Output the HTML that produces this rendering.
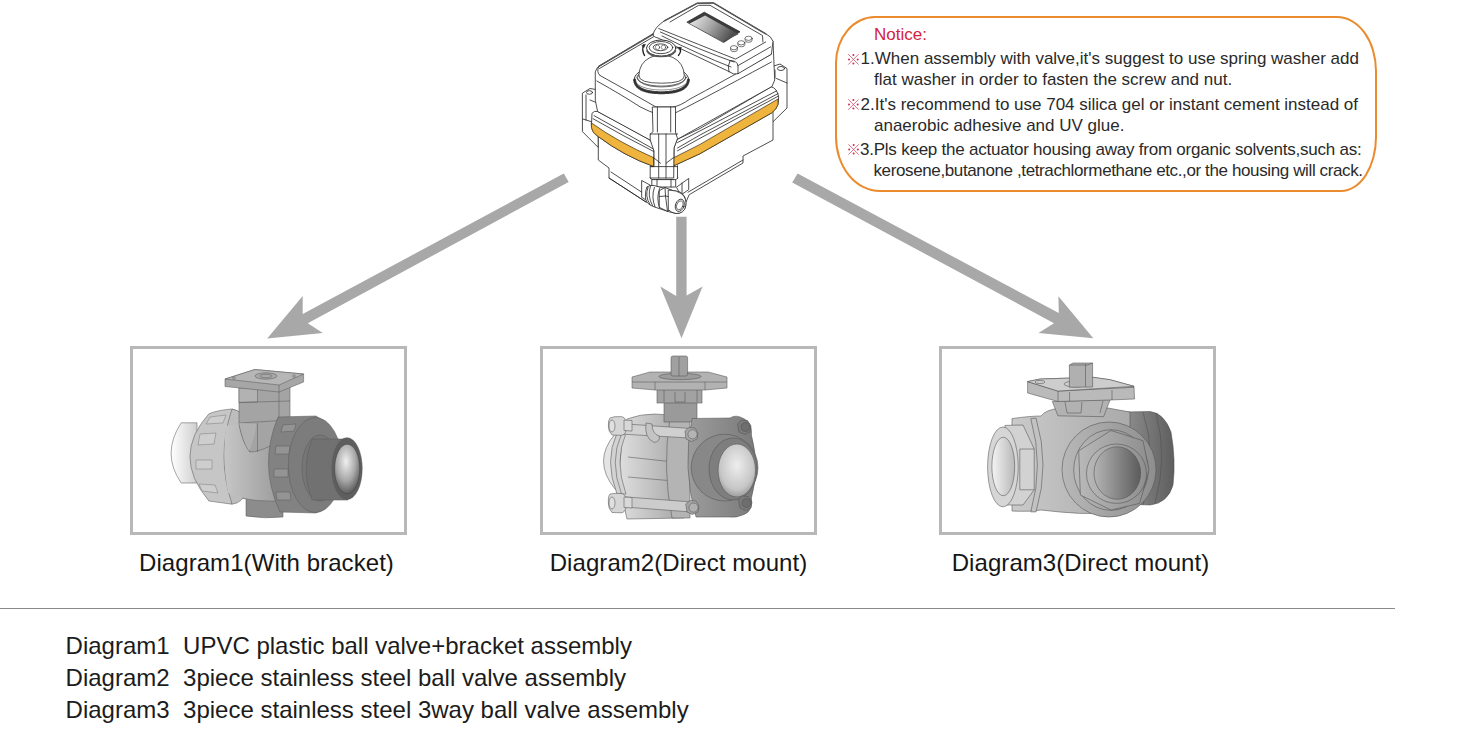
<!DOCTYPE html>
<html>
<head>
<meta charset="utf-8">
<style>
html,body{margin:0;padding:0;background:#fff;}
body{width:1459px;height:737px;position:relative;overflow:hidden;font-family:"Liberation Sans",sans-serif;color:#1a1a1a;}
.t{position:absolute;white-space:pre;line-height:1;}
.cap{font-size:24px;color:#161616;letter-spacing:0.07px;}
.leg{font-size:24px;color:#1c1c1c;}
.n{font-size:17px;color:#2a2a2a;}
.box{position:absolute;top:345.8px;width:271px;height:183px;border:3px solid #b8b8b8;}
#rule{position:absolute;left:0;top:607.5px;width:1395px;height:1.6px;background:#8a8a8a;}
#notice{position:absolute;left:835px;top:15.6px;width:538px;height:172px;border:2px solid #ea8b2e;border-radius:40px 40px 36px 45px / 47px 55px 55px 55px;}
svg{position:absolute;left:0;top:0;}
</style>
</head>
<body>
<!-- arrows -->
<svg id="arrows" width="1459" height="737" viewBox="0 0 1459 737">
  <g fill="#a9a8a9">
    <polygon points="563.8,173.6 568.7,182 307.8,323.2 322.8,332.9 267.2,338.6 302.7,295.9 302.7,314"/>
    <polygon points="676.2,216.8 686.6,216.8 686.6,295.4 702.6,286.6 681.5,338.2 660.3,286.6 676.2,295.9"/>
    <polygon points="797.6,173.6 792.2,182.4 1054,323.2 1038.5,333 1093.3,338.3 1058.4,296.3 1058.8,313.1"/>
  </g>
</svg>

<svg id="act" width="1459" height="230" viewBox="0 0 1459 230">
<defs>
  <linearGradient id="scr" x1="0" y1="0" x2="1" y2="0.35">
    <stop offset="0" stop-color="#f0f0f0"/>
    <stop offset="0.5" stop-color="#a8a8a8"/>
    <stop offset="1" stop-color="#505050"/>
  </linearGradient>
</defs>
<g stroke="#222" stroke-width="0.8" fill="#fff" stroke-linejoin="round" stroke-linecap="round">
  <!-- left ear -->
  <path d="M582.7,93 L590,88.5 L596,89.5 L598.3,102 L598.3,147.5 L582.7,131.9 Z"/>
  <path d="M582.7,119 L591.5,121.7 M586,95 L586,120 M590,100 L597.5,103" fill="none"/>
  <ellipse cx="589.5" cy="92.5" rx="3" ry="1.8"/>
  <!-- right ear -->
  <path d="M773.9,66 L780,64 L787,68.5 L787,108 L771.2,123.5 L771.2,80 Z"/>
  <path d="M776.5,78.5 L787,83 M775,70 L775,78" fill="none"/>
  <ellipse cx="781" cy="68.5" rx="3.6" ry="2"/>
  <!-- lower body -->
  <path d="M598.3,130 L598.3,160 L609,168 L609,178 L646,202 L686,202 L689.2,194.7 L743,163 L743,156 L773,140 L773,104 L660,166 Z"/>
  <path d="M609,178 L646,202 M611,172 L646,195 M688,192.2 L743,160" fill="none"/>
  <!-- rim left -->
  <path d="M592.2,113 Q594,110.5 597.6,111.5 Q625,126 650,140 L654,147 L654,166.6 Q624,156 598.3,136.6 Q592,133 591.5,126 Z"/>
  <path d="M594,115.6 Q625,133 653.5,149 M593,118.7 Q625,137 653.5,151.4" fill="none"/>
  <path d="M591.5,123 Q618,142 653.5,157.6 L654,166.6 Q624,156 598.3,136.6 Q592,133 591.5,128 Z" fill="#efb43e" stroke="#3a2a10" stroke-width="0.7"/>
  <!-- rim right -->
  <path d="M677.5,139.2 L700,128.5 L771.2,86.8 Q777,88 778.7,97 L778,104.4 Q777,109 771.2,113.2 L700,153.7 L674,165.7 L674,148 Z"/>
  <path d="M677.5,142.6 L700,130.9 L776.6,90.9 M677.5,148 L700,135 L778,93.6 M677.5,150.8 L700,138.3 L778,96.3" fill="none"/>
  <path d="M674,157.6 L700,144.4 L778,99 L778,104.4 Q777,109 771.2,113.2 L700,153.7 L674,165.7 Z" fill="#efb43e" stroke="#3a2a10" stroke-width="0.7"/>
  <!-- lid: side band + body wall -->
  <path d="M595.4,71.5 Q597,67 598.8,66.4 L653,34.2 L773,41.2 L774.7,80 L772,86.5 L677.5,139.2 L650,140 L597.6,111.5 L595.4,100.7 Z"/>
  <path d="M596.8,81 Q622,95 640,106.8 Q650,112 657,114 L673,114 Q690,106 771.4,62" fill="none"/>
  <path d="M600.2,66.4 L600.2,75.6" fill="none"/>
  <!-- lid top face -->
  <path d="M598.8,66.4 L653,34.2 L740,59 L771.4,54.2 Q718,84 690,99 Q680,106 673,107 L656,107 Q630,92 600.2,75.6 Q596,72 598.8,66.4 Z"/>
  <path d="M598.8,66.4 L653,34.2" stroke-width="1.6" stroke="#555" fill="none"/>
  <path d="M599.5,68.5 L654,36.5" fill="none"/>
  <!-- display housing -->
  <path d="M653,34.2 Q655,27 664.4,20.8 L697,3.3 L713.3,2.9 L765.7,33.8 Q771,36 773,41.2 L771.4,54.2 L738,73.7 Q733,75 730,72 L658,38 Q653,37 653,34.2 Z"/>
  <path d="M664.4,20.8 L697,3.3 L713.3,2.9 L765.7,33.8" stroke-width="1.5" stroke="#555" fill="none"/>
  <path d="M670,22 L698.6,5.3 L710,5.3 L762.5,35.5 L762.9,42" fill="none"/>
  <path d="M658.7,28.5 Q700,45 735.6,59.1 L765.7,42 M660.4,32 Q700,50 734,62 M738,65.6 L770.6,46.9 M662,36 Q700,55 731,67" fill="none"/>
  <path d="M730,60.7 Q737,60 738,66 L738,73.7 M730,60.7 Q727,66 729,72" fill="none"/>
  <path d="M687.2,22 L704.3,12.2 L740,31.8 L723.9,42.3 Z" fill="#3c3c3c" stroke="#2a2a2a"/>
  <path d="M689.7,23.6 L705.1,15.5 L738.5,34.2 L723,41.5 Z" fill="url(#scr)" stroke="none"/>
  <g stroke-width="0.6">
    <path d="M730.5,47.7 L730.5,49.5 A3.5,2.2 0 0 0 737.5,49.5 L737.5,47.7"/>
    <ellipse cx="734" cy="47.7" rx="3.5" ry="2.1"/>
    <path d="M737.8,42.8 L737.8,44.6 A3.5,2.2 0 0 0 744.8,44.6 L744.8,42.8"/>
    <ellipse cx="741.3" cy="42.8" rx="3.5" ry="2.1"/>
    <path d="M745.1,38.3 L745.1,40.1 A3.5,2.2 0 0 0 752.1,40.1 L752.1,38.3"/>
    <ellipse cx="748.6" cy="38.3" rx="3.5" ry="2.1"/>
  </g>
  <!-- dome -->
  <ellipse cx="661.5" cy="79.5" rx="27.2" ry="13.2" stroke-width="0.9"/>
  <path d="M634.6,80 Q636,92.7 661.5,92.7 Q687,92.7 688.4,80" fill="none" stroke-width="3" stroke="#444" stroke-dasharray="0.7 0.9"/>
  <path d="M634.4,79.5 Q635,92.9 661.5,92.9 Q688,92.9 688.7,79.5" fill="none" stroke-width="0.8"/>
  <path d="M637,84 Q645,90 661.5,90 Q678,90 686,84" fill="none" stroke-width="0.7" stroke="#666"/>
  <ellipse cx="661.5" cy="77.5" rx="24.5" ry="8.6" stroke-width="0.7"/>
  <path d="M637,77.5 Q640,87 661.5,87 Q683,87 686,77.5" fill="none" stroke-width="0.6"/>
  <path d="M638.8,76 Q639,63 650,57.5 Q661.5,52.5 673,57.5 Q684,63 684.3,76 Q684,83.2 661.5,83.2 Q639,83.2 638.8,76 Z" stroke-width="0.75"/>
  <!-- indicator -->
  <ellipse cx="661.2" cy="48.1" rx="14.7" ry="8.1" stroke-width="0.9"/>
  <path d="M647,51 Q650,56.5 661.2,56.5 Q672,56.5 675.5,51" fill="none" stroke-width="1.6" stroke="#555"/>
  <ellipse cx="661" cy="47.6" rx="11.8" ry="6.1"/>
  <ellipse cx="660.5" cy="47.3" rx="7.3" ry="3.4"/>
  <circle cx="657.5" cy="47.3" r="2.2" fill="none" stroke-width="0.5"/>
  <circle cx="663.5" cy="47.3" r="2.2" fill="none" stroke-width="0.5"/>
  <path d="M643.6,45 Q641.5,50 644.5,55.4 M679.5,48 Q682,51 678.5,55.4" fill="none" stroke-width="1.4"/>
  <path d="M642,45.5 L645.5,44 L644,47.5 Z M677,47.5 L681.5,47.2 L680.5,50 Z" fill="#222" stroke-width="0.4"/>
  <!-- column -->
  <path d="M652.7,107 L675.5,107 L675.5,132 L677.5,138.6 L674,148 L673.7,178 L650.2,178 L650.2,166.6 L654,166.6 L654,151 L650.2,140 L650.2,134 L652.7,132 Z"/>
  <path d="M657.4,107 L657.4,132 M670.7,107 L670.7,132 M650.2,134 L677.5,134 M658.7,134 L658.7,178 M666,134 L666,178 M653.5,157.6 L660.6,163.3 M673.5,157.6 L666,163.3 M650.2,166.6 L677.5,166.6" fill="none"/>
  <path d="M677.5,165.7 L677.5,178" fill="none"/>
  <path d="M650,178 L652.2,179.6 L675.7,179.6 L678,178" fill="none"/>
  <path d="M652.2,179.6 L675.7,179.6 L675.7,187 L652.2,187 Z"/>
  <path d="M657,179.6 L657,187 M671,179.6 L671,187" fill="none"/>
  <!-- gland plates -->
  <path d="M642,180.7 L650,185 L650,202.3 L642,197.5 Z"/>
  <path d="M676.8,187 L688.7,178.4 L688.7,189.6 L681,195 Z"/>
  <path d="M682,183 L682,193" fill="none"/>
  <!-- gland -->
  <path d="M647,187 Q650,184.5 654,185.5 L668.6,189.6 L680,192 Q687,196 685.7,206 Q684,213.5 676,213.5 L668,211.5 L654,206.8 Q645,204 645.4,196 Q645.4,189 647,187 Z"/>
  <path d="M648,187.5 Q644.5,196 650,204.5 M650.5,186 Q647,196 652.5,205.5 M654.4,187.4 Q651,197 655,206.8 M659.6,188.5 Q656,198 659.6,208" fill="none"/>
  <path d="M659.6,190.5 L665,187.5 L673.8,191 L673.8,206.5 L667.5,211.3 L659.6,207.5 Z"/>
  <path d="M665,187.5 L665.5,196 L673.8,197.5 M659.6,196.5 L665.5,196 M665.5,196 L667.5,211.3" fill="none"/>
  <path d="M668.6,190 Q677,190 682,194 Q687,199 685.7,206 Q684.5,213.5 676,213.5 Q671,212.5 668.6,210 Z"/>
  <ellipse cx="679.8" cy="205.3" rx="4.3" ry="6.3" transform="rotate(20 679.8 205.3)" stroke-width="0.8"/>
  <ellipse cx="679.8" cy="205.3" rx="3" ry="4.6" transform="rotate(20 679.8 205.3)" stroke-width="0.6"/>
</g>
</svg>
<div id="notice"></div>
<div class="box" style="left:130px"></div>
<div class="box" style="left:540px"></div>
<div class="box" style="left:939px"></div>
<div id="rule"></div>
<svg id="valves" width="1459" height="737" viewBox="0 0 1459 737">
<defs>
  <linearGradient id="v1body" x1="0" y1="0" x2="1" y2="0">
    <stop offset="0" stop-color="#c6c6c6"/><stop offset="1" stop-color="#929292"/>
  </linearGradient>
  <linearGradient id="v1lend" x1="0" y1="0" x2="1" y2="0">
    <stop offset="0" stop-color="#ffffff"/><stop offset="1" stop-color="#cfcfcf"/>
  </linearGradient>
  <linearGradient id="v1lnut" x1="0" y1="0" x2="1" y2="0">
    <stop offset="0" stop-color="#e2e2e2"/><stop offset="1" stop-color="#b4b4b4"/>
  </linearGradient>
  <radialGradient id="v1open" cx="0.45" cy="0.35" r="0.7">
    <stop offset="0" stop-color="#f0f0f0"/><stop offset="0.55" stop-color="#a8a8a8"/><stop offset="1" stop-color="#505050"/>
  </radialGradient>
  <linearGradient id="v2body" x1="0" y1="0" x2="1" y2="0">
    <stop offset="0" stop-color="#dedede"/><stop offset="1" stop-color="#a4a4a4"/>
  </linearGradient>
  <linearGradient id="v2right" x1="0" y1="0" x2="1" y2="0">
    <stop offset="0" stop-color="#9c9c9c"/><stop offset="1" stop-color="#7a7a7a"/>
  </linearGradient>
  <radialGradient id="v2open" cx="0.5" cy="0.4" r="0.65">
    <stop offset="0" stop-color="#eeeeee"/><stop offset="0.7" stop-color="#c6c6c6"/><stop offset="1" stop-color="#909090"/>
  </radialGradient>
  <linearGradient id="v3body" x1="0" y1="0" x2="1" y2="0">
    <stop offset="0" stop-color="#cacaca"/><stop offset="1" stop-color="#aaaaaa"/>
  </linearGradient>
  <linearGradient id="v3open" x1="0" y1="0" x2="1" y2="0">
    <stop offset="0" stop-color="#b4b4b4"/><stop offset="1" stop-color="#5c5c5c"/>
  </linearGradient>
  <linearGradient id="v3lopen" x1="0" y1="0" x2="1" y2="0">
    <stop offset="0" stop-color="#f4f4f4"/><stop offset="1" stop-color="#b8b8b8"/>
  </linearGradient>
  <linearGradient id="v3boss" x1="0" y1="0" x2="1" y2="0">
    <stop offset="0" stop-color="#b8b8b8"/><stop offset="1" stop-color="#8e8e8e"/>
  </linearGradient>
  <linearGradient id="v3right" x1="0" y1="0" x2="1" y2="0">
    <stop offset="0" stop-color="#8e8e8e"/><stop offset="1" stop-color="#5e5e5e"/>
  </linearGradient>
</defs>

<!-- ===== Valve 1 ===== -->
<g id="v1" stroke="#5e5e5e" stroke-width="0.55">
  <!-- left pipe end -->
  <path d="M197,422.8 L181.2,422.8 Q161,453.7 181.2,483 L197,483 Z" fill="url(#v1lend)"/>
  <!-- foot -->
  <path d="M246,492 L283,494 L283,517 Q265,519 246,516 Z" fill="#8c8c8c"/>
  <!-- body -->
  <path d="M226,424 Q255,416 292,420 L292,500 Q255,504 226,494 Q214,459 226,424 Z" fill="url(#v1body)"/>
  <!-- left union nut -->
  <path d="M208.9,413.8 Q218,410 232,409 Q238,410 244,416 Q250,436 246,444 L232,446 L232,504.2 L208.9,501 Q171,456 208.9,413.8 Z" fill="#c6c6c6"/>
  <path d="M232,409 Q244,411 247,424 Q251,456 247,490 Q243,503 232,504.2 Q216,456 232,409 Z" fill="#bdbdbd"/>
  <path d="M226,426 Q255,418 292,421 L292,499 Q255,503 228,493 Q222,459 226,426 Z" fill="url(#v1body)" stroke="none"/>
  <g fill="#cecece" stroke="#7a7a7a" stroke-width="0.5">
    <path d="M210,417 L226,415 L223,423 L206,424 Z"/>
    <path d="M200,434 L216,433 L214,444 L198,445 Z"/>
    <path d="M196,460 L212,460 L212,469 L196,469 Z"/>
    <path d="M199,484 L215,485 L218,493 L202,491 Z"/>
  </g>
  <!-- neck -->
  <path d="M239,388 L290,386 L290,420 Q282,440 270,446 Q258,452 250,452 Q241,440 239,423 Z" fill="#a4a4a4"/>
  <path d="M239,388 L257.5,387.5 L257.5,402 L239,402.5 Z" fill="#b2b2b2"/>
  <path d="M239,402.5 L290,401 M239,423 L290,420 M257.5,423 L257.5,452 M239,423 Q244,446 250,452" fill="none"/>
  <path d="M239,423 Q243,442 249,451 Q254,440 256.5,424 Z" fill="#b0b0b0" stroke="none"/>
  <path d="M279,390 L279,421" fill="none"/>
  <!-- bracket plate -->
  <path d="M225,379 L254.8,369.5 L303.6,374 L303.6,382 L279,392 L225,386.5 Z" fill="#a6a6a6"/>
  <path d="M225,379 L254.8,369.5 L303.6,374 L279,385 Z" fill="#b6b6b6"/>
  <path d="M279,385 L279,392" fill="none"/>
  <ellipse cx="266" cy="376" rx="11" ry="3.2" fill="#a8a8a8"/>
  <ellipse cx="266" cy="376" rx="6" ry="1.8" fill="none"/>
  <circle cx="234" cy="378" r="1.3" fill="none"/>
  <circle cx="294" cy="376" r="1.3" fill="none"/>
  <!-- right union nut -->
  <path d="M278,417 L316,416 Q342,430 342,465 Q342,500 316,513 L280,512 Q258,465 278,417 Z" fill="#828282"/>
  <g fill="#949494" stroke="#5a5a5a" stroke-width="0.5">
    <path d="M283,425 L296,424 L294,431 L281,432 Z"/>
    <path d="M276,446 L290,446 L289,454 L275,454 Z"/>
    <path d="M274,469 L288,469 L288,477 L274,477 Z"/>
    <path d="M276,492 L290,492 L291,500 L277,500 Z"/>
  </g>
  <ellipse cx="315.3" cy="465" rx="27" ry="47.5" fill="#7c7c7c"/>
  <ellipse cx="320" cy="468" rx="18" ry="33" fill="#767676"/>
  <!-- right pipe end -->
  <path d="M312,439 L348,439 L348,500 L312,500 Q300,469.5 312,439 Z" fill="#717171"/>
  <ellipse cx="347" cy="468.6" rx="15.2" ry="30.9" fill="#5e5e5e"/>
  <ellipse cx="347.2" cy="469" rx="12.6" ry="24.8" fill="url(#v1open)" stroke="#444"/>
</g>

<!-- ===== Valve 2 ===== -->
<g id="v2" stroke="#555" stroke-width="0.55">
  <!-- left end cap -->
  <path d="M615,434 Q592,461 615,489 L630,489 L630,434 Z" fill="#e4e4e4"/>
  <!-- center body -->
  <path d="M627,419 Q640,414 655,414 L684,416 L684,518 L627,519 Q612,468 627,419 Z" fill="url(#v2body)"/>
  <path d="M628,457 L674,462 M628,477 L674,481" fill="none"/>
  <!-- flange ring -->
  <path d="M617,433 Q604,461 617,494 L626,494 Q614,461 626,433 Z" fill="#d2d2d2"/>
  <path d="M621.5,434 Q609,461 621.5,494" fill="none"/>
  <!-- middle flange -->
  <path d="M670,418 L690,418 L690,518 L672,518 Q662,468 670,418 Z" fill="#b4b4b4"/>
  <!-- tie rods -->
  <path d="M620,423.5 L690,428.5 L690,438 L620,434 Z" fill="#d0d0d0"/>
  <path d="M620,496.5 L692,502 L692,512 L620,506.7 Z" fill="#cccccc"/>
  <path d="M646,423 Q644,438 654,442.4 Q660,442 659.3,436 Q652,434 652,424 Z" fill="#c4c4c4"/>
  <!-- lugs -->
  <path d="M610,418 Q614,416 622,416.7 Q627,418 626,426 Q627,434 622,435.3 L612,435 Q608,431 608.4,426 Q608,420 610,418 Z" fill="#d6d6d6"/>
  <path d="M610,494 Q614,493 622,493.5 Q627,495 626,503 Q627,511 622,512.8 L612,512.5 Q608,508 608.4,503 Q608,496 610,494 Z" fill="#d6d6d6"/>
  <ellipse cx="612" cy="426" rx="3" ry="6" fill="#e0e0e0"/>
  <ellipse cx="612" cy="503" rx="3" ry="6" fill="#e0e0e0"/>
  <path d="M624,420 L632,420.5 L632,431 L624,430.5 Z M624,497 L632,497.5 L632,508 L624,507.5 Z" fill="#d8d8d8"/>
  <!-- neck -->
  <rect x="664" y="402" width="33" height="20" fill="#9a9a9a"/>
  <rect x="657" y="389" width="45" height="14" fill="#a2a2a2"/>
  <path d="M664,389 L664,402 M697,389 L697,402 M675,392 L675,402 L685,402 L685,392" fill="none"/>
  <!-- pad -->
  <path d="M632,377 L650,372 L708,372 L727,377 L727,388 L705,390 L655,390 L632,388 Z" fill="#b2b2b2"/>
  <path d="M632,382 L727,382 M655,382 L655,390 M705,382 L705,390" fill="none"/>
  <ellipse cx="680" cy="376.5" rx="21" ry="3.2" fill="#9c9c9c"/>
  <!-- stem -->
  <rect x="671" y="356" width="16.6" height="20" rx="2" fill="#a0a0a0"/>
  <path d="M679,357 L679,376" fill="none"/>
  <!-- right end cap -->
  <path d="M692,418.5 L730,418 Q736,414 744,418.7 Q752.5,423 751.4,435 Q760,467 751.4,498 Q753,511 744,514.5 Q736,518 730,517 L696,517 Q682,468 692,418.5 Z" fill="url(#v2right)"/>
  <ellipse cx="724.6" cy="467.6" rx="33.4" ry="33.4" fill="#888"/>
  <ellipse cx="733" cy="469" rx="24" ry="31" fill="#7e7e7e"/>
  <ellipse cx="736.8" cy="470.5" rx="18.7" ry="26.5" fill="url(#v2open)"/>
  <!-- bolts -->
  <path d="M685,431 L689,427.5 L695,428 L698,433 L697,439 L691.5,441.5 L686,439 Z" fill="#a8a8a8"/><circle cx="692.5" cy="434.3" r="4.6" fill="#b4b4b4"/>
  <path d="M737.5,424 L741.5,420 L747.5,420.5 L751,426 L750,432 L744.5,434.5 L739,432 Z" fill="#7a7a7a"/><circle cx="745.5" cy="427" r="4.5" fill="#6e6e6e"/>
  <path d="M685.8,504 L690,500.5 L696,501 L699,506 L698,512 L692.5,514.5 L687,512 Z" fill="#a4a4a4"/><circle cx="693.5" cy="507.6" r="4.6" fill="#b0b0b0"/>
  <path d="M738.5,499.5 L742.5,496 L748.5,496.5 L752,502 L751,508 L745.5,510.5 L740,508 Z" fill="#7a7a7a"/><circle cx="746.5" cy="503" r="4.5" fill="#6e6e6e"/>
</g>

<!-- ===== Valve 3 ===== -->
<g id="v3" stroke="#4e4e4e" stroke-width="0.55">
  <!-- right port -->
  <path d="M1125,412 L1150,411.5 Q1164,413 1171,432 Q1176,460 1173,485 Q1168,503 1150,505 L1125,504 Z" fill="url(#v3right)"/>
  <path d="M1143,412 Q1158,458 1143,505 M1156,413 Q1168,458 1155,503" fill="none"/>
  <!-- body pipe + dome -->
  <path d="M1012,418.6 Q1030,416 1041,416 Q1045,410 1060,408 L1108,408 L1130,412 L1130,510 Q1100,516 1060,512 L1041,510 Q1030,511.9 1012,511 Z" fill="url(#v3body)"/>
  <!-- collar ring -->
  <path d="M1030.8,418.6 L1036,418 Q1050,465 1036,511.9 L1030.8,511.9 Q1044,465 1030.8,418.6 Z" fill="#c2c2c2"/>
  <!-- left port: hex nut -->
  <path d="M1005,425.4 L1023,425 L1034.2,449 L1034.2,489.8 L1023,505 L1005,505 Z" fill="#d2d2d2"/>
  <path d="M1019.8,449 L1034.2,449 M1019.8,489.8 L1034.2,489.8 M1019.8,449 L1019.8,489.8" fill="none"/>
  <!-- left face ring -->
  <ellipse cx="1002.9" cy="466.9" rx="15.3" ry="39.9" fill="#d6d6d6"/>
  <ellipse cx="1003.3" cy="466.5" rx="11.4" ry="29.2" fill="url(#v3lopen)"/>
  <!-- center boss -->
  <ellipse cx="1109" cy="469.5" rx="47" ry="47.5" fill="url(#v3boss)"/>
  <ellipse cx="1111" cy="470" rx="37.3" ry="40.3" fill="url(#v3boss)"/>
  <path d="M1078.7,450.8 L1111,430.5 L1143,440.7 L1149,470 L1139.7,503.4 L1111,510 L1080.4,495 Z" fill="url(#v3boss)"/>
  <ellipse cx="1116.5" cy="473.7" rx="30" ry="29.7" fill="url(#v3boss)"/>
  <ellipse cx="1117.3" cy="473" rx="23.3" ry="26.3" fill="url(#v3open)"/>
  <!-- neck -->
  <path d="M1052.3,401.5 L1110.2,399.6 L1103.6,416.7 L1058,415.8 Z" fill="#b2b2b2"/>
  <path d="M1065,402 L1067,413 L1081,413 L1082,402 M1103,401 L1100,413" fill="none"/>
  <!-- pad -->
  <path d="M1027.6,381.6 L1040,379 L1093,377.3 L1110,379.7 L1134,386.3 L1134.5,399 L1110,400 L1058,401.5 L1027.6,393 Z" fill="#bababa"/>
  <path d="M1027.6,381.6 L1058,391.1 L1134,387.3 M1058,391.1 L1058,401.5 M1069.6,392 L1069.6,401 M1112,390 L1112,400" fill="none"/>
  <path d="M1040,379 L1093,377.3 L1110,379.7 L1134,386.3 L1058,391.1 L1027.6,381.6 Z" fill="#cdcdcd"/>
  <ellipse cx="1076" cy="384" rx="12" ry="3" fill="none"/>
  <ellipse cx="1040" cy="382" rx="5" ry="1.6" fill="none"/>
  <!-- stem -->
  <path d="M1069.4,365 L1073,363 L1092.6,363 L1092.6,387 L1069.4,387.3 Z" fill="#b0b0b0"/>
  <path d="M1085.5,364 L1085.5,387 M1069.4,365 L1088,365 L1092.6,363" fill="none"/>
</g>
</svg>


<!-- notice text -->
<div class="t n" style="left:874px;top:26.4px;color:#d3233f">Notice:</div>
<div class="t n" style="left:860.6px;top:49.7px">1.When assembly with valve,it's suggest to use spring washer add</div>
<div class="t n" style="left:874px;top:71.4px">flat washer in order to fasten the screw and nut.</div>
<div class="t n" style="left:860.6px;top:95.6px">2.It's recommend to use 704 silica gel or instant cement instead of</div>
<div class="t n" style="left:874px;top:116.7px">anaerobic adhesive and UV glue.</div>
<div class="t n" style="left:860px;top:140.6px;letter-spacing:-0.23px">3.Pls keep the actuator housing away from organic solvents,such as:</div>
<div class="t n" style="left:873.5px;top:161.5px;letter-spacing:-0.38px">kerosene,butanone ,tetrachlormethane etc.,or the housing will crack.</div>
<svg width="1459" height="200" viewBox="0 0 1459 200">
  
  <g transform="translate(853.4 59.4)">
      <path d="M-5.2,-5.2 L5.2,5.2 M-5.2,5.2 L5.2,-5.2" stroke="#de5f77" stroke-width="0.9" fill="none"/>
      <circle cx="0" cy="-4.4" r="1" fill="#c8304c"/>
      <circle cx="0" cy="4" r="1" fill="#c8304c"/>
      <circle cx="-4.4" cy="0" r="1" fill="#c8304c"/>
      <circle cx="4.3" cy="0" r="1" fill="#c8304c"/>
    </g>
  <g transform="translate(853.4 104.5)">
      <path d="M-5.2,-5.2 L5.2,5.2 M-5.2,5.2 L5.2,-5.2" stroke="#de5f77" stroke-width="0.9" fill="none"/>
      <circle cx="0" cy="-4.4" r="1" fill="#c8304c"/>
      <circle cx="0" cy="4" r="1" fill="#c8304c"/>
      <circle cx="-4.4" cy="0" r="1" fill="#c8304c"/>
      <circle cx="4.3" cy="0" r="1" fill="#c8304c"/>
    </g>
  <g transform="translate(853.6 149.5)">
      <path d="M-5.2,-5.2 L5.2,5.2 M-5.2,5.2 L5.2,-5.2" stroke="#de5f77" stroke-width="0.9" fill="none"/>
      <circle cx="0" cy="-4.4" r="1" fill="#c8304c"/>
      <circle cx="0" cy="4" r="1" fill="#c8304c"/>
      <circle cx="-4.4" cy="0" r="1" fill="#c8304c"/>
      <circle cx="4.3" cy="0" r="1" fill="#c8304c"/>
    </g>
</svg>

<!-- captions -->
<div class="t cap" style="left:139px;top:551px">Diagram1(With bracket)</div>
<div class="t cap" style="left:549.7px;top:551px">Diagram2(Direct mount)</div>
<div class="t cap" style="left:951.7px;top:551px">Diagram3(Direct mount)</div>

<!-- legend -->
<div class="t leg" style="left:65.6px;top:634px">Diagram1</div>
<div class="t leg" style="left:183.1px;top:634px">UPVC plastic ball valve+bracket assembly</div>
<div class="t leg" style="left:65.6px;top:666px">Diagram2</div>
<div class="t leg" style="left:183.1px;top:666px">3piece stainless steel ball valve assembly</div>
<div class="t leg" style="left:65.6px;top:698px">Diagram3</div>
<div class="t leg" style="left:183.1px;top:698px">3piece stainless steel 3way ball valve assembly</div>

</body>
</html>
